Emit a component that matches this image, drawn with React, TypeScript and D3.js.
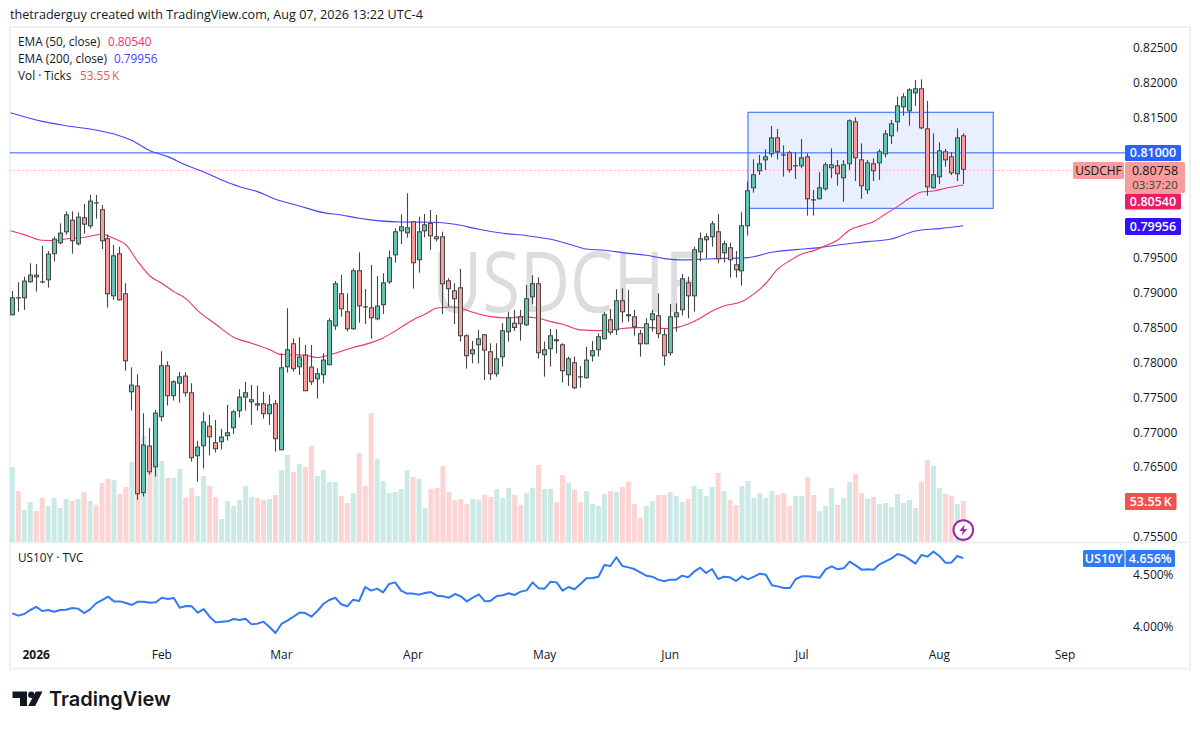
import React from 'react';
import * as d3 from 'd3';

// prices are kept in 1e-5 units (78674 = 0.78674)
const open = [
  78674,78932,78918,79147,79257,79161,79175,79548,79705,79862,80044,79691,80077,79948,80292,80192,79777,78946,79562,78989,
  77572,77668,76127,76809,76499,77215,77959,77515,77696,77811,77572,76656,76799,77095,76857,76857,76943,77057,77300,77496,
  77429,77415,77415,77258,77415,76742,77930,78274,77930,78112,77940,77758,77816,77959,78517,78989,78732,78474,79319,78803,
  78789,78617,78818,79147,79533,79877,79848,80020,79462,79877,79996,79805,79805,79175,79032,79075,78388,78116,78245,78402,
  78159,77830,78073,78431,78569,78660,78531,78932,79133,78102,78188,78331,78259,77816,78002,77801,77773,78088,78174,78331,
  78617,78460,78889,78689,78660,78417,78259,78603,78675,78403,78131,78646,78746,79147,78946,79576,79748,79791,79877,79562,
  79648,79405,79304,79948,80492,80736,80893,80979,81222,80979,81008,80807,80807,80950,80335,80335,80478,80779,80822,80635,
  80836,81451,80907,80464,80850,80850,80979,81237,81437,81652,81594,81852,81924,81351,80492,80650,81022,80950,80693,81251,
];
const high = [
  79023,79147,79228,79419,79409,79667,79595,79800,79991,80163,80163,80149,80268,80397,80397,80254,79834,79681,79657,79133,
  77930,77830,77272,77057,77320,78159,78016,77744,77863,77859,77701,76876,77286,77248,77176,77048,77391,77320,77615,77720,
  77677,77668,77577,77534,77463,78131,78775,78345,78360,78250,78250,77916,78131,78632,79166,79252,78989,79347,79576,79051,
  79395,79237,79276,79600,79920,80120,80421,80020,80087,80125,80182,80111,79872,79204,79133,79338,78402,78307,78465,78407,
  78274,78274,78560,78727,78751,78751,79109,79247,79218,78298,78479,78474,78274,78083,78083,77949,78226,78307,78417,78722,
  78765,79047,79061,79037,78751,78465,78632,78751,78989,78474,78837,78846,79266,79228,79657,79858,79848,80025,80125,79743,
  79715,79595,80149,80588,80907,80969,81051,81384,81342,81108,81027,81008,81198,80993,80468,80726,80864,81065,80898,80898,
  81480,81509,81136,80898,80922,81051,81327,81470,81804,81852,81924,82043,82052,81742,81279,81151,81055,81008,81351,81279,
];
const low = [
  78674,78727,78751,79142,79013,79133,79070,79443,79691,79829,79557,79672,79843,79915,80058,79624,78784,78894,78884,77882,
  77310,76031,76079,76394,76365,77153,77382,77453,77424,77510,76580,76294,76480,76666,76709,76752,76881,76976,77210,77310,
  77105,77310,77195,77105,76723,76742,77854,77868,77820,77587,77677,77482,77701,77959,78465,78655,78441,78465,78569,78550,
  78340,78603,78694,79123,79428,79695,79786,79056,79285,79791,79610,79734,78694,78798,78550,78298,77911,77987,77983,77749,
  77749,77796,77940,78298,78450,78312,78522,78832,78054,77796,77940,78131,77711,77663,77620,77639,77768,78011,78083,78331,
  78393,78393,78570,78584,78383,78083,78259,78441,78345,77954,78097,78441,78670,78632,78727,79443,79490,79657,79419,79433,
  79214,79214,79099,79815,80430,80683,80755,80936,80907,80659,80717,80626,80779,80101,80101,80335,80459,80635,80530,80301,
  80755,80597,80340,80411,80597,80612,80936,81127,81303,81532,81389,81671,81337,80387,80492,80550,80802,80683,80597,80554,
];
const close = [
  78932,78918,79171,79257,79218,79156,79557,79772,79858,80120,79734,80087,79972,80316,80287,79734,78975,79533,78889,78016,
  77682,76112,76823,76427,77281,77959,77515,77730,77801,77558,76628,76795,77153,76928,76757,76938,77000,77300,77510,77572,
  77472,77382,77258,77401,76900,77930,78188,77902,78083,77587,77716,77844,78040,78603,79133,78760,78474,79319,78803,78798,
  78632,78813,79147,79505,79877,79948,79934,79419,79877,79977,79805,79762,79118,79047,78904,78374,78088,78188,78345,78169,
  77830,78059,78460,78646,78493,78546,78918,79133,78131,78188,78388,78302,77873,78059,77630,77796,78040,78174,78374,78689,
  78426,78889,78717,78660,78503,78259,78560,78703,78403,78088,78660,78717,79204,78946,79619,79777,79805,79991,79476,79705,
  79462,79319,79963,80464,80693,80850,80950,81222,81008,80974,80750,80822,80936,80335,80330,80507,80836,80836,80693,80836,
  81466,80922,80521,80864,80736,81022,81279,81423,81680,81809,81909,81924,81351,80507,80693,81036,80893,80707,81222,80758,
];
// tick volume, thousands
const volume = [
  97.9,66.6,41.8,52.2,40.5,57.5,47.0,57.5,44.4,56.2,53.5,56.2,65.3,53.5,48.3,77.0,82.3,81.0,62.7,71.8,
  104.5,67.9,138.4,98.4,100.6,105.8,83.6,83.6,95.3,57.5,70.5,60.1,86.2,73.1,58.8,30.0,53.5,47.0,54.8,73.1,
  58.8,57.5,54.8,56.2,61.4,94.0,113.6,91.4,101.9,97.9,125.4,86.2,94.0,78.4,78.4,60.1,50.9,64.0,116.2,73.1,
  168.5,108.4,79.7,64.0,65.3,69.2,94.0,84.9,82.3,44.4,69.2,70.5,99.2,65.3,54.8,56.2,49.6,56.2,54.8,61.4,
  58.8,69.2,57.5,70.5,61.4,48.3,64.0,70.5,100.6,69.2,69.2,52.2,87.5,77.0,67.9,52.2,66.6,49.6,47.0,62.7,
  66.6,65.3,71.8,78.4,49.6,31.3,47.0,53.5,61.4,61.4,65.3,60.1,52.2,56.2,73.1,69.2,60.1,71.8,90.1,66.6,
  54.8,48.3,73.1,79.7,57.5,64.0,57.5,66.6,61.4,64.0,47.0,60.1,60.1,84.9,61.4,40.5,47.0,70.5,48.3,57.5,
  78.4,88.8,64.0,56.2,58.8,49.6,50.9,45.7,62.7,50.9,54.8,44.4,78.4,107.1,99.2,70.5,62.7,60.1,49.6,53.55,
];
const ema50Bars = [-0.3,2,5,7,9,12,14,15,17,19,21,23,25,27,29,31,34,37,40,43,45,48,49,51,53,55,57,60,62,65,67,69,71,74,77,80,83,85,88,90,92,95,98,99,101,104,107,109,111,113,115,117,119,122,124,126,128,130,132,134,136,138,140,142,144,146,148,150,152,154,156,158,159];
const ema50 = [79886,79829,79748,79743,79767,79791,79824,79834,79772,79681,79443,79237,79133,79013,78913,78741,78546,78360,78274,78183,78112,78107,78102,78069,78107,78159,78212,78283,78350,78503,78608,78689,78779,78794,78717,78655,78636,78651,78632,78584,78546,78465,78455,78460,78474,78498,78498,78484,78498,78550,78632,78737,78808,78870,78980,79133,79338,79457,79552,79600,79672,79753,79896,79958,80015,80125,80230,80349,80440,80454,80492,80526,80540];
const ema200Bars = [-0.3,5,9,14,17,20,23,26,29,32,35,38,41,44,48,52,55,58,61,65,70,74,78,82,86,90,93,96,99,102,106,109,112,116,120,123,127,131,135,139,143,147,151,155,159];
const ema200 = [81575,81451,81389,81327,81270,81175,81031,80946,80826,80726,80612,80516,80445,80335,80240,80144,80111,80063,80029,80010,80006,79977,79905,79848,79815,79762,79695,79624,79605,79572,79533,79486,79467,79481,79490,79500,79576,79614,79643,79691,79729,79767,79882,79915,79956];
const us10y = [
  4.130,4.108,4.124,4.162,4.191,4.152,4.162,4.146,4.162,4.165,4.181,4.175,4.133,4.168,4.225,4.257,4.289,4.244,4.244,4.229,
  4.210,4.241,4.241,4.232,4.235,4.279,4.267,4.276,4.184,4.200,4.197,4.137,4.171,4.098,4.044,4.051,4.054,4.076,4.067,4.079,
  4.025,4.032,4.051,4.000,3.943,4.029,4.060,4.098,4.137,4.133,4.098,4.152,4.219,4.257,4.279,4.216,4.197,4.260,4.248,4.381,
  4.346,4.365,4.330,4.410,4.425,4.346,4.318,4.318,4.308,4.324,4.333,4.298,4.292,4.279,4.314,4.292,4.244,4.279,4.311,4.244,
  4.251,4.295,4.302,4.321,4.305,4.337,4.349,4.425,4.368,4.365,4.432,4.425,4.346,4.381,4.359,4.410,4.464,4.467,4.479,4.591,
  4.581,4.664,4.581,4.568,4.552,4.521,4.489,4.479,4.451,4.435,4.451,4.451,4.489,4.473,4.527,4.565,4.514,4.552,4.457,4.479,
  4.473,4.438,4.483,4.454,4.479,4.508,4.498,4.397,4.387,4.371,4.371,4.457,4.483,4.483,4.476,4.470,4.549,4.578,4.549,4.559,
  4.622,4.587,4.546,4.549,4.546,4.597,4.625,4.654,4.695,4.679,4.644,4.603,4.686,4.670,4.718,4.676,4.613,4.613,4.676,4.656,
];
// 0.81, 0.805, 0.80 and 0.76 sit behind the price tags, so they are left out
const priceTicks = [82500,82000,81500,79500,79000,78500,78000,77500,77000,76500,75500];
const yieldTicks = [4.5, 4.0];
const monthLabels = ['2026','Feb','Mar','Apr','May','Jun','Jul','Aug','Sep'];
const monthBars = [4,25,45,67,89,110,132,155,176];
const rangeBox = { fromBar: 123, toBar: 164, top: 81581, bottom: 80206 };
const lastClose = 80758;
const hLine = 81000;

const FONT = "'Open Sans', sans-serif";
const TXT = '#131722';
const GREEN = '#63c4b1';
const RED = '#fa9c9c';
const EDGE = '#454545';

const x = d3.scaleLinear().domain([0, 159]).range([12.3, 963.3]);
const y = d3.scaleLinear().domain([82000, 75500]).range([83, 537]);
const yVol = d3.scaleLinear().domain([0, 100]).range([542, 465.4]);
const yYield = d3.scaleLinear().domain([4.5, 4.0]).range([574.5, 627]);

const emaLine = d3.line<[number, number]>()
  .x(d => x(d[0])).y(d => y(d[1])).curve(d3.curveMonotoneX);
const yieldLine = d3.line<number>()
  .x((_, i) => x(i)).y(d => yYield(d));

const fmt = (p: number) => (p / 100000).toFixed(5);
const snap = (v: number) => Math.round(v) + 0.5;

// price scale tag
const Tag = ({ px, py, w, h, fill, color, text }: any) => (
  <g>
    <rect x={px} y={py} width={w} height={h} rx={1.5} fill={fill} />
    <text x={px + w / 2} y={py + h / 2 + 4.3} textAnchor="middle" fill={color} fontSize={12.5} fontWeight={600}>{text}</text>
  </g>
);

export default function App() {
  const boxX = x(rangeBox.fromBar);
  const boxW = x(rangeBox.toBar) - boxX;
  const right = 1133;
  return (
    <svg width={1200} height={729} style={{ position: 'absolute', left: 0, top: 0, background: '#fff' }} fontFamily={FONT}>
      <text x={10} y={19} fontSize={12.6} fill={TXT}>thetraderguy created with TradingView.com, Aug 07, 2026 13:22 UTC-4</text>

      <rect x={10} y={27} width={1180} height={641.5} fill="#fff" stroke="#f0f0f0" strokeWidth={2} />
      <line x1={10} x2={1190} y1={542.5} y2={542.5} stroke="#eeeeee" strokeWidth={1.5} />

      <text x={432} y={312} fontSize={84} fill="#dcdde0" textLength={268} lengthAdjust="spacingAndGlyphs">USDCHF</text>

      <rect x={boxX} y={y(rangeBox.top)} width={boxW} height={y(rangeBox.bottom) - y(rangeBox.top)}
        fill="#2962ff" fillOpacity={0.1} />
      <rect x={boxX} y={y(rangeBox.top)} width={boxW} height={y(rangeBox.bottom) - y(rangeBox.top)}
        fill="none" stroke="#2962ff" strokeWidth={1} />

      {volume.map((v, i) => (
        <rect key={i} x={x(i) - 2.5} y={yVol(v)} width={5} height={yVol(0) - yVol(v)}
          fill={close[i] >= open[i] ? '#cbeae6' : '#fcd4d4'} />
      ))}

      <line x1={10} x2={1125} y1={y(hLine)} y2={y(hLine)} stroke="#2962ff" strokeWidth={1} />
      <line x1={10} x2={1073} y1={snap(y(lastClose))} y2={snap(y(lastClose))} stroke="#f99d9d" strokeWidth={1} strokeDasharray="1 3" />

      <path d={emaLine(ema200Bars.map((b, i) => [b, ema200[i]]) as [number, number][]) || ''} fill="none" stroke="#4444ff" strokeWidth={1.1} />
      <path d={emaLine(ema50Bars.map((b, i) => [b, ema50[i]]) as [number, number][]) || ''} fill="none" stroke="#f2316f" strokeWidth={1.1} />

      {open.map((o, i) => {
        const up = close[i] >= o;
        const cx = Math.floor(x(i)) + 0.5;
        const t = y(Math.max(o, close[i]));
        const b = y(Math.min(o, close[i]));
        return (
          <g key={i}>
            <line x1={cx} x2={cx} y1={y(high[i])} y2={y(low[i])} stroke={EDGE} strokeWidth={1.1} />
            <rect x={cx - 2} y={t + 0.5} width={4} height={Math.max(b - t - 1, 0.2)}
              fill={up ? GREEN : RED} stroke={EDGE} strokeWidth={1} />
          </g>
        );
      })}

      {/* legend */}
      <g fontSize={11.8} fill={TXT}>
        <text x={18} y={45.5}>EMA (50, close)</text>
        <text x={108} y={45.5} fill="#f2316f">{fmt(ema50[ema50.length - 1])}</text>
        <text x={18} y={62.5}>EMA (200, close)</text>
        <text x={114} y={62.5} fill="#4444ff">{fmt(ema200[ema200.length - 1])}</text>
        <text x={18} y={79.5}>Vol · Ticks</text>
        <text x={80} y={79.5} fill="#ef5350">53.55{'\u2009'}K</text>
        <text x={18} y={561.5}>US10Y · TVC</text>
      </g>

      {/* axes */}
      <g fontSize={12} fill={TXT}>
        {priceTicks.map(t => <text key={t} x={right} y={y(t) + 4.3}>{fmt(t)}</text>)}
        {yieldTicks.map(t => <text key={t} x={right} y={yYield(t) + 4.3}>{t.toFixed(3)}%</text>)}
        {monthLabels.map((m, i) => (
          <text key={m} x={x(monthBars[i])} y={658.5} textAnchor="middle" fontWeight={i === 0 ? 700 : 400}>{m}</text>
        ))}
      </g>

      <Tag px={1125} py={145} w={56} h={16} fill="#2962ff" color="#fff" text={fmt(hLine)} />
      <rect x={1073} y={162} width={51} height={17} rx={1.5} fill={RED} />
      <text x={1098.5} y={174.8} textAnchor="middle" fontSize={12} fill={TXT}>USDCHF</text>
      <rect x={1125} y={162} width={60} height={31} rx={1.5} fill={RED} />
      <text x={1155} y={175} textAnchor="middle" fontSize={12.5} fill={TXT}>{fmt(lastClose)}</text>
      <text x={1155} y={189} textAnchor="middle" fontSize={11.5} fill="#3c3c44">03:37:20</text>
      <Tag px={1125} py={193.5} w={56} h={16} fill="#e91e63" color="#fff" text={fmt(ema50[ema50.length - 1])} />
      <Tag px={1125} py={218} w={56} h={17} fill="#3311ff" color="#fff" text={fmt(ema200[ema200.length - 1])} />
      <Tag px={1125} py={493} w={51.5} h={17} fill="#ef5350" color="#fff" text={`53.55${'\u2009'}K`} />

      {/* lower pane */}
      <path d={yieldLine(us10y) || ''} fill="none" stroke="#3179f5" strokeWidth={2} strokeLinejoin="round" />
      <Tag px={1083} py={550} w={41.5} h={17} fill="#3179f5" color="#fff" text="US10Y" />
      <Tag px={1125.5} py={550} w={49.5} h={17} fill="#3179f5" color="#fff" text={`${us10y[159].toFixed(3)}%`} />

      {/* lightning badge */}
      <g transform="translate(963.3,530)">
        <circle r={9.8} fill="#fff" stroke="#9c27b0" strokeWidth={2} />
        <path d="M1.5,-5.5 L-4,1 L-0.5,1 L-1.5,5.5 L4,-1 L0.5,-1 Z" fill="#9c27b0" />
      </g>

      {/* logo */}
      <g fill="#131722">
        <path d="M12.5,691.5 H27 V706 H20 V698 H12.5 Z" />
        <circle cx={31.3} cy={694.7} r={3.2} />
        <path d="M35.8,691.5 H42.5 L35.2,706 H28.2 Z" />
        <text x={49} y={705.5} fontFamily="Inter, sans-serif" fontSize={20} fontWeight={600}>TradingView</text>
      </g>
    </svg>
  );
}
